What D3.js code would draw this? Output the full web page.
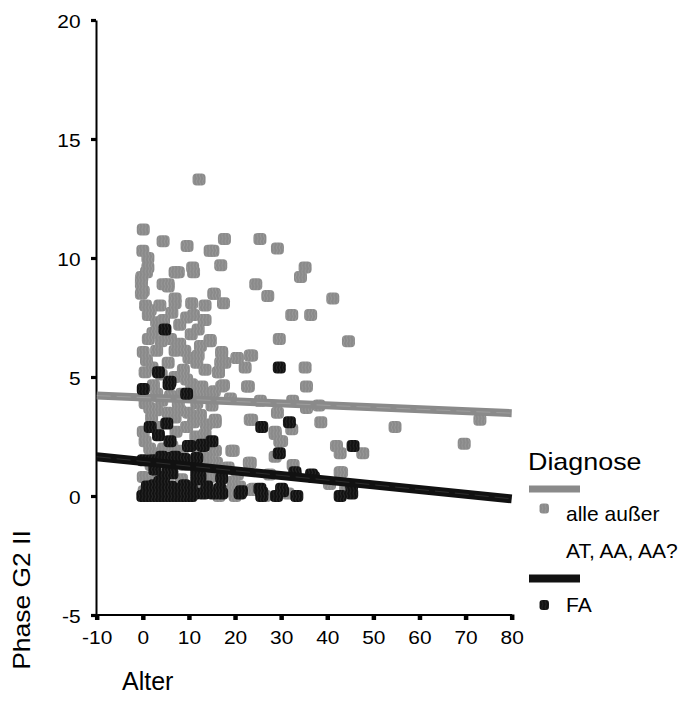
<!DOCTYPE html>
<html>
<head>
<meta charset="utf-8">
<script src="https://cdn.jsdelivr.net/npm/d3@7"></script>
<style>
  html, body { margin: 0; padding: 0; background: #fff; }
  svg { display: block; font-family: "Liberation Sans", Arial, sans-serif; }
</style>
</head>
<body>
<svg id="chart" width="689" height="715"></svg>
<script>
// ---------------- data ----------------
const xTicks = [-10, 0, 10, 20, 30, 40, 50, 60, 70, 80];
const yTicks = [-5, 0, 5, 10, 15, 20];
const groups = ["alle außer AT, AA, AA?", "FA"];
const legendTitle = "Diagnose";
const xTitle = "Alter";
const yTitle = "Phase G2 II";

// "alle außer AT, AA, AA?" (grey) : [Alter, Phase G2 II]
const greyPts = [
  [12.2,13.3],[0.1,11.2],[4.4,10.7],[9.6,10.5],[14.6,10.3],[0.0,10.3],[1.1,10.0],[1.1,9.6],[7.3,9.4],[10.8,9.6],[-0.2,9.2],
  [17.7,10.8],[25.4,10.8],[15.2,10.3],[29.2,10.4],[16.9,9.7],[35.2,9.6],[34.2,9.2],[24.5,8.9],[27.1,8.4],[41.2,8.3],
  [15.4,8.5],[17.5,8.1],[32.3,7.6],[36.4,7.6],[13.3,7.4],[29.6,6.6],[44.6,6.5],[14.6,6.5],[17.1,6.0],[23.6,5.9],
  [20.5,5.8],[22.2,5.4],[16.9,5.6],[16.4,5.2],[35.2,5.4],
  [22.7,4.6],[35.5,4.6],[29.2,3.5],[35.5,3.7],[23.6,3.2],[38.6,3.1],[32.3,2.8],[28.7,2.6],[30.1,2.3],[42.0,2.1],
  [47.7,1.8],[42.8,1.8],[28.7,1.65],[23.1,1.4],[32.6,1.3],[42.8,1.0],[24.3,0.25],
  [54.7,2.9],[69.7,2.2],[73.1,3.2],[43.1,1.0],[38.2,3.8],
  [-0.3,8.9],[5.5,8.8],[-0.3,8.5],[15.5,8.5],[0.6,8.0],[3.7,8.0],[7.0,8.1],[10.6,8.1],[1.2,7.6],[6.3,7.7],
  [9.5,7.5],[13.5,7.4],[12.0,7.0],[14.6,6.55],[1.2,6.6],[2.2,6.85],[0.1,6.05],[3.0,6.1],[7.0,6.1],[9.1,6.1],
  [17.1,6.05],[20.4,5.8],[23.3,5.9],[17.8,5.6],[11.7,5.6],[0.8,5.7],[5.5,5.6],[13.5,5.3],[0.5,5.2],[8.8,5.3],
  [16.4,5.2],[2.3,4.65],[10.6,4.7],[12.8,4.6],[17.1,4.6],[22.9,4.6],[0.5,3.9],[4.1,4.0],[7.7,3.9],[11.7,3.9],
  [15.0,3.8],[9.9,3.5],[15.7,3.2],[23.3,3.2],[1.9,3.3],[7.0,3.3],[9.5,2.9],[0.1,2.7],[13.5,2.6],[0.5,2.3],
  [6.3,2.1],[15.7,1.9],[19.3,1.9],[3.4,1.8],[23.3,1.4],[17.1,1.1],[0.1,0.8],[1.6,0.6],[8.4,0.7],[14.6,0.8],
  [19.6,0.6],[23.6,0.25],
  [-0.3,9.1],[0.8,9.4],[5.5,8.9],[7.7,9.4],[11.0,9.4],[7.0,9.4],[0.1,8.6],[7.0,8.3],[4.4,8.9],[1.6,7.8],
  [17.5,4.65],[15.7,3.1],[28.7,2.7],[29.7,2.3],[19.6,1.9],[15.7,1.9],[24.0,0.3],
  [3.0,7.3],[4.5,7.4],[8.0,7.2],[10.5,6.8],[11.0,7.6],[12.5,6.3],[4.0,6.5],[6.0,6.6],[8.0,6.4],[10.0,5.8],
  [12.0,5.9],[2.0,5.4],[4.0,5.1],[7.0,5.0],[9.5,4.9],[11.5,4.4],[13.8,4.3],[15.5,4.4],[3.0,4.3],[6.0,4.2],
  [8.5,4.3],[1.5,3.7],[3.0,3.6],[5.5,3.5],[8.0,3.6],[12.5,3.4],[13.8,3.0],[11.0,3.1],[3.2,2.9],[7.2,2.7],
  [11.5,2.5],[1.5,2.0],[4.5,2.0],[8.5,1.9],[12.0,1.8],[14.0,1.6],[1.8,1.3],[5.0,1.2],[9.0,1.3],[13.5,1.2],
  [16.0,1.4],[18.5,1.2],[20.5,0.9],[2.8,0.4],[6.0,0.3],[9.5,0.2],[12.5,0.3],[15.5,0.2],[18.5,0.2],[21.0,0.4],
  [0.3,0.2],[4.5,0.0],[10.5,0.0],[16.5,0.0],[20.0,0.0],[26.5,0.0],[31.5,0.1],[27.5,0.9],[40.5,0.5],[44.0,0.3],
  [19.0,4.1],[25.5,4.0],[32.5,4.0],[13.5,8.0]
];

// "FA" (black)
const blackPts = [
  [29.6,5.4],[25.8,2.9],[31.8,3.1],[45.6,2.1],[29.6,1.8],[33.0,0.9],[37.0,0.8],[21.4,0.2],[25.8,0.15],[30.3,0.2],
  [33.4,0.0],[42.8,0.0],[45.3,0.1],[45.3,0.45],
  [4.8,7.0],[3.4,5.2],[5.9,4.8],[0.1,4.5],[9.5,4.3],[5.7,4.7],[1.6,2.9],[5.2,3.05],[3.4,2.55],[5.9,2.3],
  [10.2,2.1],[12.8,2.15],[15.0,2.3],[13.1,2.1],[9.9,2.1],[0.1,1.5],[4.1,1.65],[7.0,1.65],[11.7,1.6],[2.6,1.1],
  [6.3,0.95],[11.7,1.0],[3.7,0.6],[11.7,0.7],[17.1,0.75],[12.4,0.8],
  [0.0,0.0],[0.6,0.05],[1.3,0.0],[2.0,0.1],[2.8,0.0],[3.5,0.05],[4.2,0.0],[5.0,0.1],[5.7,0.0],[6.5,0.05],
  [7.2,0.0],[8.0,0.1],[8.8,0.0],[9.6,0.05],[10.4,0.0],[11.2,0.1],[13.1,0.1],[15.3,0.1],[17.1,0.1],[21.1,0.1],
  [13.9,0.4],[16.7,0.3],[25.4,0.3],[30.1,0.3],[29.0,0.0],[25.8,0.0],[33.0,1.0],[36.6,0.9],
  [1.0,0.4],[2.5,0.45],[4.5,0.35],[6.0,0.4],[7.8,0.3],[9.0,0.45],[10.5,0.35],[4.5,0.8],[5.5,1.0],
  [2.0,1.5],[5.5,1.6],[9.0,1.55]
];

// fitted regression lines (endpoints)
const greyFit = [[-10, 4.22], [80, 3.48]];
const blackFit = [[-10, 1.65], [80, -0.12]];

// ---------------- drawing ----------------
const GREY = "#8a8a8a", BLACK = "#111111";
const FONT = "Liberation Sans, Arial, sans-serif";
const svg = d3.select("#chart");

const x = d3.scaleLinear().domain([-10, 80]).range([96.7, 511.7]);
const y = d3.scaleLinear().domain([-5, 20]).range([615, 20]);

// marker patterns
const defs = svg.append("defs");
function pat(id, base, line) {
  const p = defs.append("pattern").attr("id", id).attr("patternUnits", "userSpaceOnUse")
    .attr("width", 3.2).attr("height", 6);
  p.append("rect").attr("width", 3.2).attr("height", 6).attr("fill", base);
  p.append("path").attr("d", "M1.6,0 Q0.6,1.5 1.6,3 Q2.6,4.5 1.6,6")
    .attr("fill", "none").attr("stroke", line).attr("stroke-width", 0.6);
}
pat("pg", GREY, "#a4a4a4");
pat("pb", BLACK, "#3a3a3a");

// axes
const fmt = d => String(d);   // plain hyphen-minus like the original
const yAxis = d3.axisLeft(y).tickValues(yTicks).tickFormat(fmt).tickSize(5).tickSizeOuter(0).tickPadding(9);
const gy = svg.append("g").attr("transform", "translate(96,0)").call(yAxis);
gy.select(".domain").attr("stroke", "#000").attr("stroke-width", 2);
gy.selectAll(".tick line").attr("stroke", "#000").attr("stroke-width", 3.2);
gy.selectAll(".tick text").attr("font-size", 19).attr("fill", "#000").attr("font-family", FONT)
  .attr("dy", "0.42em").attr("transform", "scale(1.1,1)");

const xAxis = d3.axisBottom(x).tickValues(xTicks).tickFormat(fmt).tickSize(5.5).tickSizeOuter(0).tickPadding(11);
const gx = svg.append("g").attr("transform", "translate(0,614.5)").call(xAxis);
gx.select(".domain").attr("stroke", "#000").attr("stroke-width", 2);
gx.selectAll(".tick line").attr("stroke", "#000").attr("stroke-width", 4.5);
gx.selectAll(".tick text").attr("font-size", 19).attr("fill", "#000").attr("font-family", FONT)
  .attr("transform", "scale(1.1,1)");

const MW = 13, MH = 12;
function markers(data, fill) {
  svg.append("g").selectAll("rect").data(data).join("rect")
    .attr("x", d => x(d[0]) - MW / 2).attr("y", d => y(d[1]) - MH / 2)
    .attr("width", MW).attr("height", MH).attr("rx", 4).attr("ry", 4)
    .attr("fill", fill);
}
const line = d3.line().x(d => x(d[0])).y(d => y(d[1]));

markers(greyPts, "url(#pg)");
svg.append("path").datum(greyFit).attr("d", line).attr("fill", "none")
  .attr("stroke", GREY).attr("stroke-width", 8);
svg.append("path").datum(greyFit).attr("d", line).attr("fill", "none")
  .attr("stroke", "#b8b8b8").attr("stroke-width", 0.7).attr("stroke-dasharray", "14,6").attr("opacity", 0.6);
markers(blackPts, "url(#pb)");
svg.append("path").datum(blackFit).attr("d", line).attr("fill", "none")
  .attr("stroke", BLACK).attr("stroke-width", 9);
svg.append("path").datum(blackFit).attr("d", line).attr("fill", "none")
  .attr("stroke", "#555").attr("stroke-width", 0.7).attr("stroke-dasharray", "14,6").attr("opacity", 0.6);

// axis titles
svg.append("text").attr("transform", "translate(122,690)")
  .attr("font-size", 25).attr("font-family", FONT).attr("fill", "#000").text(xTitle);
svg.append("text").attr("transform", "translate(30,600) rotate(-90) scale(1.15,1)")
  .attr("text-anchor", "middle").attr("font-size", 23).attr("font-family", FONT).attr("fill", "#000").text(yTitle);

// legend
const lg = svg.append("g").attr("font-family", FONT);
lg.append("text").attr("transform", "translate(528,470) scale(1.12,1)")
  .attr("font-size", 24).attr("fill", "#000").text(legendTitle);
lg.append("line").attr("x1", 529).attr("x2", 580).attr("y1", 489).attr("y2", 489)
  .attr("stroke", GREY).attr("stroke-width", 7);
lg.append("rect").attr("x", 539.5).attr("y", 503.5).attr("width", 9.5).attr("height", 10).attr("rx", 3)
  .attr("fill", "url(#pg)");
const parts = groups[0].split(" AT");
lg.append("text").attr("transform", "translate(566,521)")
  .attr("font-size", 21).attr("fill", "#000").text(parts[0]);
lg.append("text").attr("transform", "translate(566,558)")
  .attr("font-size", 21).attr("fill", "#000").text("AT" + parts[1]);
lg.append("line").attr("x1", 529).attr("x2", 580).attr("y1", 578.5).attr("y2", 578.5)
  .attr("stroke", BLACK).attr("stroke-width", 8);
lg.append("rect").attr("x", 539.5).attr("y", 600).attr("width", 9.5).attr("height", 10).attr("rx", 3)
  .attr("fill", "url(#pb)");
lg.append("text").attr("transform", "translate(566,612)")
  .attr("font-size", 21).attr("fill", "#000").text(groups[1]);
</script>
</body>
</html>
